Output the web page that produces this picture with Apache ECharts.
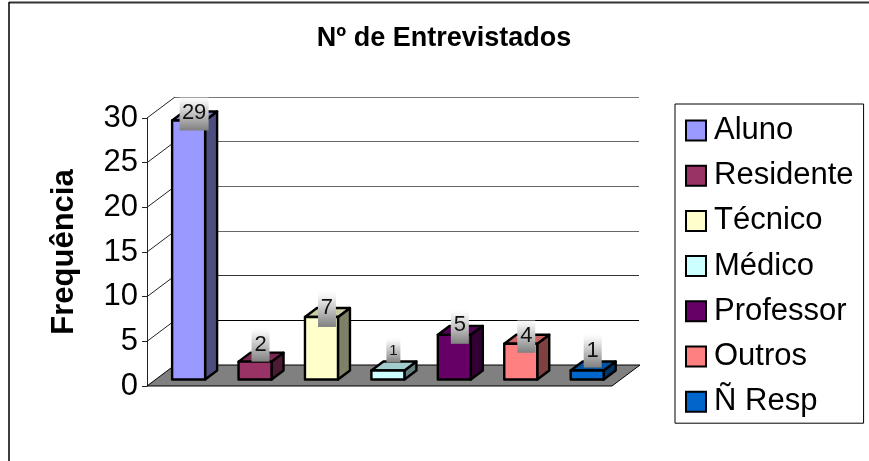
<!DOCTYPE html>
<html>
<head>
<meta charset="utf-8">
<title>Nº de Entrevistados</title>
<script src="https://cdn.jsdelivr.net/npm/echarts@6/dist/echarts.min.js"></script>
<style>
  html, body { margin: 0; padding: 0; background: #fff; }
  #chart { width: 869px; height: 461px; }
</style>
</head>
<body>
<div id="chart"></div>
<script>
const categories = ['Aluno', 'Residente', 'Técnico', 'Médico', 'Professor', 'Outros', 'Ñ Resp']
const values = [29, 2, 7, 1, 5, 4, 1]
const yTicks = [0, 5, 10, 15, 20, 25, 30]
const colors = ['#9999ff', '#993366', '#ffffcc', '#ccffff', '#660066', '#ff8080', '#0066cc']

const FONT = '"Liberation Sans", Arial, sans-serif'
// depth of the fake 3d box, floor and walls, in pixels
const WALL_DX = 28
const WALL_DY = 21
const BAR_DX = 12
const BAR_DY = 9
const BAR_INSET_X = 8.4
const BAR_INSET_Y = 6.5
const BAR_WIDTH = 33
// data label boxes were placed by hand in the original, so low bars differ
const labelLook = [
  { lift: 10, w: 29, h: 36, size: 22, textUp: 17 },
  { lift: 0, w: 18, h: 36, size: 22, textUp: 17 },
  { lift: 10, w: 18, h: 38, size: 22, textUp: 19 },
  { lift: -8, w: 14, h: 26, size: 15, textUp: 12 },
  { lift: 9, w: 18, h: 36, size: 22, textUp: 19 },
  { lift: 9, w: 18, h: 36, size: 22, textUp: 17 },
  { lift: -3, w: 18, h: 36, size: 22, textUp: 17 }
]

function shade (hex, k) {
  const c = echarts.color.parse(hex)
  return 'rgb(' + Math.round(c[0] * k) + ',' + Math.round(c[1] * k) + ',' + Math.round(c[2] * k) + ')'
}

function renderBar (params, api) {
  const i = api.value(0)
  const color = colors[i]
  const look = labelLook[i]
  const top = api.coord([i, api.value(1)])
  const base = api.coord([i, 0])
  const x0 = base[0] - BAR_WIDTH / 2 + BAR_INSET_X
  const x1 = x0 + BAR_WIDTH
  const yBase = base[1] - BAR_INSET_Y
  const yTop = top[1] - BAR_INSET_Y
  const line = { stroke: '#000', lineWidth: 2.4, lineJoin: 'round' }
  const face = (points, fill) => ({
    type: 'polygon',
    shape: { points },
    style: Object.assign({ fill }, line)
  })
  const cx = (x0 + x1) / 2 + 5.5
  const boxBottom = yTop + look.lift
  return {
    type: 'group',
    children: [
      face([[x1, yBase], [x1 + BAR_DX, yBase - BAR_DY], [x1 + BAR_DX, yTop - BAR_DY], [x1, yTop]], shade(color, 0.5)),
      face([[x0, yTop], [x1, yTop], [x1 + BAR_DX, yTop - BAR_DY], [x0 + BAR_DX, yTop - BAR_DY]], shade(color, 0.8)),
      face([[x0, yBase], [x1, yBase], [x1, yTop], [x0, yTop]], color),
      {
        type: 'rect',
        shape: { x: cx - look.w / 2, y: boxBottom - look.h, width: look.w, height: look.h },
        style: {
          fill: new echarts.graphic.LinearGradient(0, 0, 0, 1, [
            { offset: 0, color: 'rgba(255,255,255,0)' },
            { offset: 0.25, color: '#ececec' },
            { offset: 1, color: '#808080' }
          ])
        }
      },
      {
        type: 'text',
        style: {
          x: cx,
          y: boxBottom - look.textUp,
          text: String(api.value(1)),
          font: look.size + 'px ' + FONT,
          fill: '#111',
          align: 'center',
          verticalAlign: 'middle'
        }
      }
    ]
  }
}

// floor and the diagonals of the left wall
function renderWalls (params, api) {
  const lastIdx = categories.length - 1
  const band = api.size([1, 0])[0]
  const left = api.coord([0, 0])[0] - band / 2
  const right = api.coord([lastIdx, 0])[0] + band / 2
  const y0 = api.coord([0, 0])[1]
  const children = [{
    type: 'polygon',
    shape: {
      points: [[left, y0], [right, y0], [right + WALL_DX, y0 - WALL_DY], [left + WALL_DX, y0 - WALL_DY]]
    },
    style: { fill: '#808080', stroke: '#000', lineWidth: 1 }
  }]
  yTicks.slice(1).forEach(t => {
    const y = api.coord([0, t])[1]
    children.push({
      type: 'line',
      shape: { x1: left, y1: y, x2: left + WALL_DX, y2: y - WALL_DY },
      style: { stroke: '#222', lineWidth: 1 }
    })
  })
  return { type: 'group', children }
}

const barSeries = categories.map((name, i) => ({
  name,
  type: 'custom',
  xAxisIndex: 0,
  yAxisIndex: 0,
  itemStyle: { color: colors[i] },
  renderItem: renderBar,
  encode: { x: 0, y: 1 },
  data: [[i, values[i]]],
  z: 5
}))

const option = {
  animation: false,
  textStyle: { fontFamily: FONT },
  title: {
    text: 'Nº de Entrevistados',
    left: 439,
    top: 20,
    textAlign: 'center',
    textStyle: { fontFamily: FONT, fontSize: 27, fontWeight: 'bold', color: '#000' }
  },
  legend: {
    orient: 'vertical',
    left: 675,
    top: 104,
    padding: [10, 10, 5, 10],
    itemWidth: 20,
    itemHeight: 20,
    itemGap: 12.2,
    borderColor: '#000',
    borderWidth: 1,
    data: categories.map(name => ({
      name,
      icon: 'rect',
      itemStyle: { borderColor: '#000', borderWidth: 2 }
    })),
    textStyle: { fontFamily: FONT, fontSize: 31, color: '#000', lineHeight: 33, padding: [0, 0, 0, 3] }
  },
  grid: [
    { left: 147, top: 118, width: 465, height: 268 },
    // back wall, shifted by the depth of the floor
    { left: 147 + WALL_DX, top: 118 - WALL_DY, width: 464, height: 268 }
  ],
  xAxis: [
    { type: 'category', gridIndex: 0, data: categories, axisLine: { show: false }, axisTick: { show: false }, axisLabel: { show: false } },
    { type: 'category', gridIndex: 1, data: categories, show: false }
  ],
  yAxis: [
    {
      type: 'value',
      gridIndex: 0,
      min: 0,
      max: 30,
      interval: 5,
      name: 'Frequência',
      nameLocation: 'middle',
      nameGap: 67,
      nameRotate: 90,
      nameTextStyle: { fontFamily: FONT, fontSize: 31, fontWeight: 'bold', color: '#000' },
      axisLine: { show: true, lineStyle: { color: '#222', width: 1 } },
      axisTick: { show: true, length: 5, lineStyle: { color: '#222', width: 1 } },
      axisLabel: { fontFamily: FONT, fontSize: 31, color: '#000', margin: 9 },
      splitLine: { show: false }
    },
    {
      type: 'value',
      gridIndex: 1,
      min: 0,
      max: 30,
      interval: 5,
      axisLine: { show: false },
      axisTick: { show: false },
      axisLabel: { show: false },
      splitLine: { show: true, lineStyle: { color: ['#000', '#000', '#333', '#666', '#666', '#666', '#777'], width: 1 } }
    }
  ],
  graphic: [
    // only the top and left edges of the chart frame are in the picture
    { type: 'line', shape: { x1: 9, y1: 2.5, x2: 869, y2: 2.5 }, style: { stroke: '#333', lineWidth: 2 } },
    { type: 'line', shape: { x1: 9, y1: 2, x2: 9, y2: 461 }, style: { stroke: '#000', lineWidth: 1.5 } }
  ],
  series: [
    {
      type: 'custom',
      xAxisIndex: 0,
      yAxisIndex: 0,
      renderItem: renderWalls,
      silent: true,
      encode: { x: 0, y: 1 },
      data: [[0, 0]],
      z: 2
    }
  ].concat(barSeries)
}

const chart = echarts.init(document.getElementById('chart'), null, { renderer: 'canvas' })
chart.setOption(option)
window.addEventListener('resize', () => chart.resize())
</script>
</body>
</html>
